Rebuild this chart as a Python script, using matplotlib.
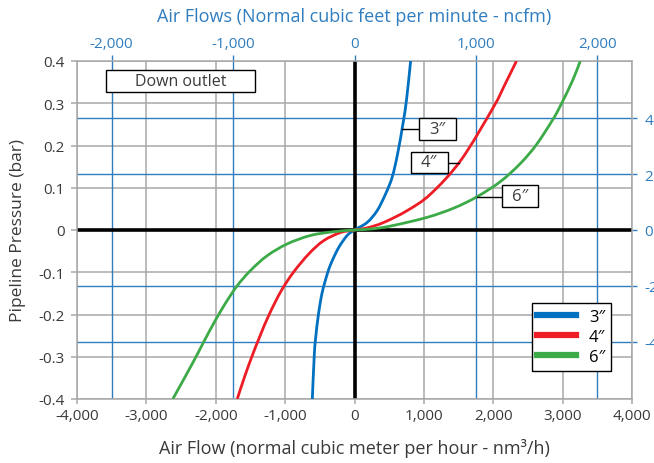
import numpy as np
import matplotlib
matplotlib.use("Agg")
import matplotlib.pyplot as plt
from matplotlib.patches import Rectangle, PathPatch
from matplotlib.path import Path
from matplotlib.lines import Line2D
from matplotlib.ticker import FuncFormatter

plt.rcParams['font.family'] = ['Open Sans', 'DejaVu Sans']
plt.rcParams['axes.unicode_minus'] = False

# Air flow (nm3/h) against pipeline pressure (bar)
flow_3 = [-608, -581, -561, -520, -466, -385, -322, -226, -106, 0,
          183, 327, 447, 543, 621, 702, 751, 809]
pres_3 = [-0.4, -0.3, -0.257, -0.2, -0.148, -0.1, -0.073, -0.041, -0.013, 0,
          0.018, 0.046, 0.085, 0.125, 0.18, 0.255, 0.31, 0.4]

flow_4 = [-1690, -1590, -1480, -1360, -1230, -1060, -880, -650, -442, -202, 0,
          183, 423, 760, 1096, 1533, 2000, 2170, 2335]
pres_4 = [-0.4, -0.35, -0.3, -0.25, -0.2, -0.145, -0.1, -0.055, -0.025, -0.006, 0,
          0.005, 0.018, 0.046, 0.085, 0.165, 0.29, 0.345, 0.4]

flow_6 = [-2619, -2440, -2262, -2100, -1900, -1700, -1500, -1260, -971, -635, -298, 0,
          279, 567, 1048, 1433, 1769, 2106, 2394, 2622, 2861, 2980, 3147, 3254]
pres_6 = [-0.4, -0.347, -0.293, -0.242, -0.184, -0.134, -0.096, -0.061, -0.033, -0.013, -0.004, 0,
          0.003, 0.011, 0.03, 0.052, 0.079, 0.115, 0.158, 0.202, 0.262, 0.298, 0.355, 0.4]

sizes = ['3″', '4″', '6″']
x_ticks = [-4000, -3000, -2000, -1000, 0, 1000, 2000, 3000, 4000]
y_ticks = [-0.4, -0.3, -0.2, -0.1, 0, 0.1, 0.2, 0.3, 0.4]
cfm_ticks = [-2000, -1000, 0, 1000, 2000]
psi_ticks = [-4, -2, 0, 2, 4]

M3H_PER_CFM = 1.75
BAR_PER_PSI = 0.066

blue = '#2f7dbf'
grey = '#a8a8a8'
txt = '#3a3a3a'
colors = ['#0070c0', '#ee1c25', '#3daa48']


def smooth_path(xs, ys):
    # smoothed line like the spreadsheet original (Catmull-Rom as Bezier)
    pts = np.column_stack([xs, ys]).astype(float)
    n = len(pts)
    verts = [pts[0]]
    codes = [Path.MOVETO]
    for i in range(n - 1):
        p0 = pts[i - 1] if i > 0 else pts[i]
        p1, p2 = pts[i], pts[i + 1]
        p3 = pts[i + 2] if i + 2 < n else pts[i + 1]
        verts += [p1 + (p2 - p0) / 6, p2 - (p3 - p1) / 6, p2]
        codes += [Path.CURVE4] * 3
    return Path(verts, codes)


fig = plt.figure(figsize=(6.54, 4.64), dpi=100)
ax = fig.add_axes([77 / 654, 1 - 400 / 464, 555 / 654, 338 / 464])

ax.set_xlim(-4000, 4000)
ax.set_ylim(-0.4, 0.4)
ax.set_xticks(x_ticks)
ax.set_yticks(y_ticks)
ax.xaxis.set_major_formatter(FuncFormatter(lambda v, p: f'{v:,.0f}'))
ax.yaxis.set_major_formatter(FuncFormatter(lambda v, p: '0' if abs(v) < 1e-9 else f'{v:.1f}'))
ax.tick_params(colors=grey, labelcolor=txt, labelsize=11, width=1.1)
ax.tick_params(axis='x', length=3.5, pad=3)
ax.tick_params(axis='y', length=4.5, pad=4.5)
ax.grid(True, color=grey, lw=1.1)
ax.set_axisbelow(True)
for s in ax.spines.values():
    s.set_color(grey)
    s.set_linewidth(1.1)

# blue reference lines for the secondary units
for t in cfm_ticks:
    if t != 0:
        ax.axvline(t * M3H_PER_CFM, color=blue, lw=1.0, zorder=1.5)
for t in psi_ticks:
    if t != 0:
        ax.axhline(t * BAR_PER_PSI, color=blue, lw=1.0, zorder=1.5)

ax.axhline(0, color='k', lw=2.6, zorder=2)
ax.axvline(0, color='k', lw=2.6, zorder=2)

handles = []
for fl, pr, c, lab in zip([flow_3, flow_4, flow_6], [pres_3, pres_4, pres_6], colors, sizes):
    ax.add_patch(PathPatch(smooth_path(fl, pr), facecolor='none', edgecolor=c,
                           lw=2.0, zorder=3, capstyle='butt'))
    handles.append(Line2D([], [], color=c, lw=4.5, label=lab))

ax.set_xlabel('Air Flow (normal cubic meter per hour - nm³/h)', fontsize=13, color=txt, labelpad=11)
ax.set_ylabel('Pipeline Pressure (bar)', fontsize=12.5, color=txt, labelpad=9)

# top axis: ncfm
secx = ax.secondary_xaxis('top', functions=(lambda x: x / M3H_PER_CFM, lambda x: x * M3H_PER_CFM))
secx.set_xticks(cfm_ticks)
secx.xaxis.set_major_formatter(FuncFormatter(lambda v, p: f'{v:,.0f}'))
secx.tick_params(colors=blue, labelcolor=blue, labelsize=11, length=4.5, width=1.0, pad=2.5)
secx.spines['top'].set_visible(False)

# right axis: psi
secy = ax.secondary_yaxis('right', functions=(lambda y: y / BAR_PER_PSI, lambda y: y * BAR_PER_PSI))
secy.set_yticks(psi_ticks)
secy.yaxis.set_major_formatter(FuncFormatter(lambda v, p: f'{v:.0f}'))
secy.tick_params(colors=blue, labelcolor=blue, labelsize=11, length=3.6, width=1.0, pad=5.5)
secy.spines['right'].set_visible(False)

fig.text(354.5 / 654, 1 - 17 / 464, 'Air Flows (Normal cubic feet per minute - ncfm)',
         color=blue, fontsize=13, ha='center', va='center')


def label_box(x0, x1, y0, y1, text, size=12):
    ax.add_patch(Rectangle((x0, y0), x1 - x0, y1 - y0, facecolor='white',
                           edgecolor='k', lw=1.0, zorder=5))
    ax.text((x0 + x1) / 2, (y0 + y1) / 2, text, ha='center', va='center',
            fontsize=size, color=txt, zorder=6)


label_box(-3584, -1436, 0.327, 0.379, 'Down outlet', 11.5)

label_box(928, 1462, 0.213, 0.265, sizes[0])
ax.plot([685, 928], [0.239, 0.239], color='k', lw=1.0, zorder=4)

label_box(809, 1342, 0.135, 0.185, sizes[1])
ax.plot([1342, 1500], [0.159, 0.159], color='k', lw=1.0, zorder=4)

label_box(2120, 2648, 0.0544, 0.1065, sizes[2])
ax.plot([1769, 2120], [0.079, 0.079], color='k', lw=1.0, zorder=4)

leg = ax.legend(handles=handles, loc='upper left', bbox_to_anchor=(0.819, 0.284),
                borderaxespad=0, fancybox=False, edgecolor='k', framealpha=1,
                fontsize=12, handlelength=2.3, handletextpad=0.8, labelspacing=0.25,
                borderpad=0.35)
leg.get_frame().set_linewidth(1.0)
leg.set_zorder(7)

fig.savefig('out.png', dpi=100)
